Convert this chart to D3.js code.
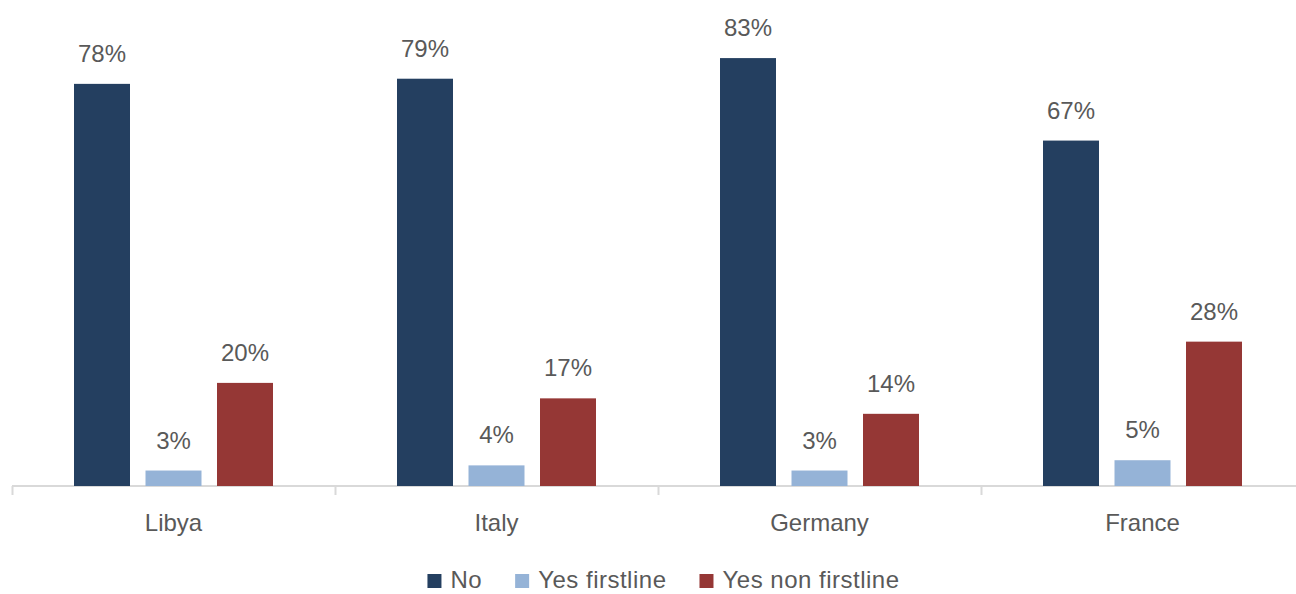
<!DOCTYPE html>
<html>
<head>
<meta charset="utf-8">
<script src="https://cdn.jsdelivr.net/npm/d3@7"></script>
<style>
  html, body { margin: 0; padding: 0; background: #fff; }
  text { font-family: "Liberation Sans", Arial, sans-serif; fill: #595959; }
</style>
</head>
<body>
<svg id="chart" width="1296" height="594"></svg>
<script>
const categories = ["Libya", "Italy", "Germany", "France"];
const seriesNames = ["No", "Yes firstline", "Yes non firstline"];
const seriesColors = ["#243F60", "#95B3D7", "#953735"];
const noValues = [78, 79, 83, 67];
const yesFirstlineValues = [3, 4, 3, 5];
const yesNonFirstlineValues = [20, 17, 14, 28];
const seriesValues = [noValues, yesFirstlineValues, yesNonFirstlineValues];

const svg = d3.select("#chart");

const x0 = d3.scaleBand().domain(categories).range([12, 1304]).padding(0);
const x1 = d3.scaleBand().domain(seriesNames).range([62, 261]).paddingInner(15.5 / 71.5).paddingOuter(0);
const y = d3.scaleLinear().domain([0, 90]).range([486, 22]);

// axis
const axisG = svg.append("g").attr("transform", `translate(0,${y(0)})`);
axisG.call(d3.axisBottom(x0).tickSize(0).tickFormat(""));
axisG.select(".domain").attr("stroke", "#D9D9D9").attr("stroke-width", 2).attr("d", `M${x0.range()[0]},0H${x0.range()[1]}`);
const tickPositions = categories.map(c => x0(c)).concat([x0.range()[1]]);
axisG.selectAll("line.cat-tick").data(tickPositions).join("line")
  .attr("class", "cat-tick")
  .attr("x1", d => d + 0.5).attr("x2", d => d + 0.5)
  .attr("y1", 0).attr("y2", 9)
  .attr("stroke", "#D9D9D9").attr("stroke-width", 2);

// category labels
svg.append("g").selectAll("text").data(categories).join("text")
  .attr("x", d => x0(d) + x0.bandwidth() / 2)
  .attr("y", 531)
  .attr("text-anchor", "middle")
  .attr("font-size", 24)
  .text(d => d);

// bars
const groups = svg.append("g").selectAll("g").data(categories).join("g")
  .attr("transform", d => `translate(${x0(d)},0)`);

groups.each(function(cat, ci) {
  const g = d3.select(this);
  const data = seriesNames.map((s, si) => ({ s, si, v: seriesValues[si][ci] }));
  g.selectAll("rect").data(data).join("rect")
    .attr("x", d => x1(d.s))
    .attr("y", d => y(d.v))
    .attr("width", x1.bandwidth())
    .attr("height", d => y(0) - y(d.v))
    .attr("fill", d => seriesColors[d.si]);
  g.selectAll("text").data(data).join("text")
    .attr("x", d => x1(d.s) + x1.bandwidth() / 2)
    .attr("y", d => y(d.v) - 22)
    .attr("text-anchor", "middle")
    .attr("font-size", 24)
    .text(d => d.v + "%");
});

// legend
const legend = svg.append("g");
const items = legend.selectAll("g").data(seriesNames).join("g");
items.append("rect").attr("width", 14).attr("height", 14).attr("y", 574)
  .attr("fill", (d, i) => seriesColors[i]);
items.append("text").attr("y", 588).attr("font-size", 24).attr("letter-spacing", 0.5).text(d => d);
let widths = [];
items.each(function() { widths.push(d3.select(this).select("text").node().getComputedTextLength()); });
const sq = 14, gapIn = 9, gapOut = 33;
const total = widths.reduce((a, w) => a + sq + gapIn + w, 0) + gapOut * (widths.length - 1);
let cx = 663.5 - total / 2;
items.each(function(d, i) {
  const g = d3.select(this);
  g.select("rect").attr("x", cx);
  g.select("text").attr("x", cx + sq + gapIn);
  cx += sq + gapIn + widths[i] + gapOut;
});
</script>
</body>
</html>
